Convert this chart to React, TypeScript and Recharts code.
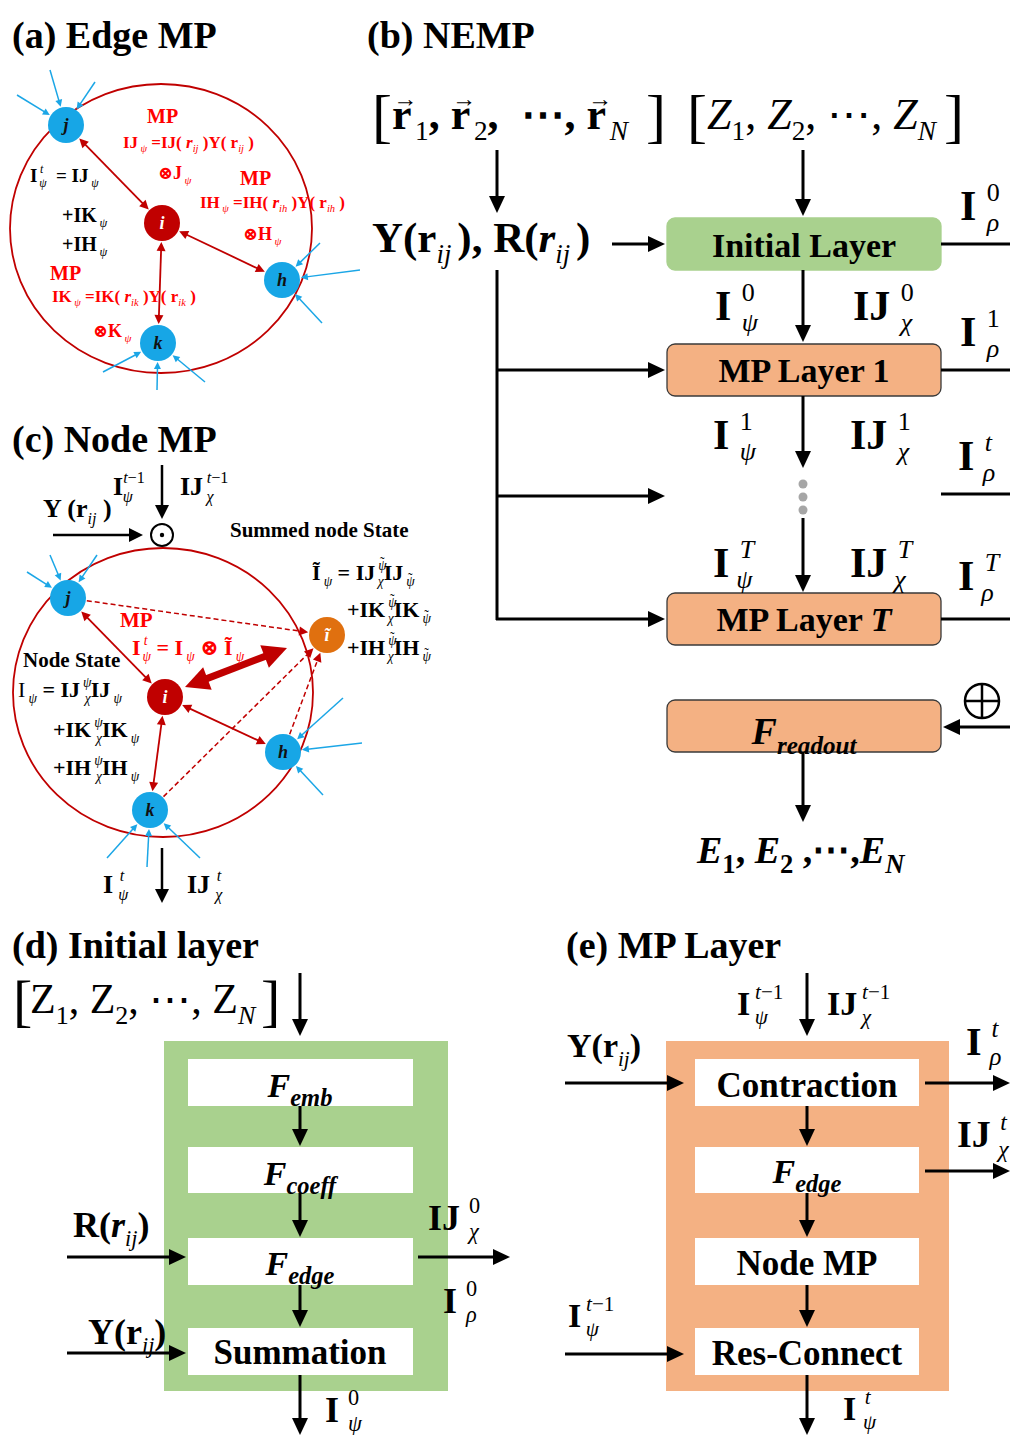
import React from 'react';
import { ScatterChart, Scatter, XAxis, YAxis, ReferenceLine, ReferenceArea } from 'recharts';

const W = 1010;
const H = 1435;
const SERIF = '"Liberation Serif", "Times New Roman", "DejaVu Serif", serif';

// ---- graph nodes of panels (a) and (c)
const nodes = [
  { id: 'aj', x: 66, y: 125, t: 'j', c: 'blue' },
  { id: 'ai', x: 162, y: 223, t: 'i', c: 'red' },
  { id: 'ah', x: 282, y: 280, t: 'h', c: 'blue' },
  { id: 'ak', x: 158, y: 343, t: 'k', c: 'blue' },
  { id: 'cj', x: 68, y: 598, t: 'j', c: 'blue' },
  { id: 'ci', x: 165, y: 697, t: 'i', c: 'red' },
  { id: 'ct', x: 327, y: 635, t: '\u0129', c: 'orange' },
  { id: 'ch', x: 283, y: 752, t: 'h', c: 'blue' },
  { id: 'ck', x: 150, y: 810, t: 'k', c: 'blue' },
];

const edges = [
  ['ai', 'aj', 'red2'], ['ai', 'ah', 'red2'], ['ai', 'ak', 'red2'],
  ['ci', 'cj', 'red2'], ['ci', 'ch', 'red2'], ['ci', 'ck', 'red2'],
  ['cj', 'ct', 'dash'], ['ck', 'ct', 'dash'], ['ch', 'ct', 'dash'],
];

// incoming neighbour messages (blue), start point -> node
const spokes: [number, number, string][] = [
  [17, 95, 'aj'], [50, 70, 'aj'], [95, 82, 'aj'],
  [320, 243, 'ah'], [360, 270, 'ah'], [322, 323, 'ah'],
  [103, 372, 'ak'], [157, 390, 'ak'], [205, 382, 'ak'],
  [27, 572, 'cj'], [50, 555, 'cj'], [97, 555, 'cj'],
  [343, 698, 'ch'], [362, 743, 'ch'], [323, 795, 'ch'],
  [107, 858, 'ck'], [147, 867, 'ck'], [200, 858, 'ck'],
];

// flow arrows [x1, y1, x2, y2, style]
const arrows: [number, number, number, number, string][] = [
  // (b)
  [497, 150, 497, 213, 'blk'], [803, 150, 803, 216, 'blk'], [612, 244, 665, 244, 'blk'],
  [941, 244, 1010, 244, 'line'], [803, 270, 803, 342, 'blk'], [941, 370, 1010, 370, 'line'],
  [497, 270, 497, 620, 'line'], [496, 370, 665, 370, 'blk'], [496, 496, 665, 496, 'blk'],
  [496, 619, 665, 619, 'blk'], [803, 396, 803, 468, 'blk'], [941, 494, 1010, 494, 'line'],
  [803, 518, 803, 592, 'blk'], [941, 619, 1010, 619, 'line'], [1010, 727, 943, 727, 'blk'],
  [803, 752, 803, 822, 'blk'],
  // (c)
  [53, 535, 143, 535, 'thin'], [162, 465, 162, 519, 'thin'], [162, 848, 162, 903, 'thin'],
  [185, 687, 287, 648, 'thick'],
  // (d)
  [300, 973, 300, 1036, 'blk'], [300, 1106, 300, 1146, 'blk'], [300, 1193, 300, 1237, 'blk'],
  [300, 1285, 300, 1327, 'blk'], [67, 1257, 186, 1257, 'blk'], [67, 1353, 186, 1353, 'blk'],
  [418, 1257, 510, 1257, 'blk'], [300, 1375, 300, 1435, 'blk'],
  // (e)
  [807, 973, 807, 1036, 'blk'], [807, 1106, 807, 1146, 'blk'], [807, 1193, 807, 1237, 'blk'],
  [807, 1285, 807, 1327, 'blk'], [565, 1083, 684, 1083, 'blk'], [565, 1354, 684, 1354, 'blk'],
  [925, 1083, 1010, 1083, 'blk'], [925, 1171, 1010, 1171, 'blk'], [807, 1375, 807, 1435, 'blk'],
];

// blocks [x1, x2, y1, y2, kind]
const blocks: [number, number, number, number, string][] = [
  [667, 941, 218, 270, 'green'], [667, 941, 344, 396, 'orange'], [667, 941, 593, 645, 'orange'],
  [667, 941, 700, 752, 'orange'],
  [164, 448, 1041, 1391, 'greenBg'], [188, 413, 1059, 1106, 'white'], [188, 413, 1147, 1193, 'white'],
  [188, 413, 1238, 1285, 'white'], [188, 413, 1328, 1375, 'white'],
  [666, 949, 1041, 1391, 'orangeBg'], [695, 919, 1059, 1106, 'white'], [695, 919, 1147, 1193, 'white'],
  [695, 919, 1238, 1285, 'white'], [695, 919, 1328, 1375, 'white'],
];

const rings: [number, number, number, number][] = [
  [10, 312, 84, 373],
  [13, 313, 548, 837],
];

const dots = [{ x: 803, y: 484 }, { x: 803, y: 497 }, { x: 803, y: 510 }];
const symbols = [{ x: 162, y: 535, s: 'odot' }, { x: 982, y: 701, s: 'oplus' }];

// text: * italic, # bold toggle, ^{} sup, _{} sub, @{} accent over last char, ` small gap
type Lbl = { x: number; y: number; t: string; size: number; bold?: boolean; sb?: boolean; ss?: number; anchor?: string; fill?: string };
const RED = '#ff0000';
const PT = 'ψ@{˜}';
const labels: Lbl[] = [
  { x: 12, y: 48, t: '(a) Edge MP', size: 38 },
  { x: 367, y: 48, t: '(b) NEMP', size: 38 },
  { x: 12, y: 452, t: '(c) Node MP', size: 38 },
  { x: 12, y: 958, t: '(d) Initial layer', size: 38 },
  { x: 566, y: 958, t: '(e) MP Layer', size: 38 },
  // (a)
  { x: 147, y: 123, t: 'MP', size: 20, fill: RED },
  { x: 123, y: 148, t: 'IJ`_{*ψ*} =IJ( *r*_{*ij*} )Y( r_{*ij*} )', size: 17, fill: RED },
  { x: 158, y: 179, t: '⊗J`_{*ψ*}', size: 18, fill: RED },
  { x: 240, y: 185, t: 'MP', size: 20, fill: RED },
  { x: 200, y: 208, t: 'IH`_{*ψ*} =IH( *r*_{*ih*} )Y( r_{*ih*} )', size: 17, fill: RED },
  { x: 243, y: 240, t: '⊗H`_{*ψ*}', size: 18, fill: RED },
  { x: 50, y: 280, t: 'MP', size: 20, fill: RED },
  { x: 52, y: 302, t: 'IK`_{*ψ*} =IK( *r*_{*ik*} )Y( r_{*ik*} )', size: 17, fill: RED },
  { x: 93, y: 337, t: '⊗K`_{*ψ*}', size: 18, fill: RED },
  { x: 30, y: 182, t: 'I`^{*t*}_{*ψ*}  = IJ`_{*ψ*}', size: 19 },
  { x: 62, y: 222, t: '+IK`_{*ψ*}', size: 20 },
  { x: 62, y: 251, t: '+IH`_{*ψ*}', size: 20 },
  // (c)
  { x: 113, y: 495, t: 'I^{*t*−1}_{*ψ*}', size: 26 },
  { x: 180, y: 495, t: 'IJ`^{*t*−1}_{*χ*}', size: 26 },
  { x: 43, y: 517, t: 'Y (r_{*ij*} )', size: 26 },
  { x: 230, y: 537, t: 'Summed node State', size: 21 },
  { x: 312, y: 580, t: 'Ĩ`_{*ψ*} = IJ`^{*' + PT + '*}_{*χ*}IJ`_{*' + PT + '*}', size: 22 },
  { x: 347, y: 617, t: '+IK`^{*' + PT + '*}_{*χ*}IK`_{*' + PT + '*}', size: 22 },
  { x: 347, y: 655, t: '+IH`^{*' + PT + '*}_{*χ*}IH`_{*' + PT + '*}', size: 22 },
  { x: 120, y: 627, t: 'MP', size: 21, fill: RED },
  { x: 132, y: 655, t: 'I`^{*t*}_{*ψ*} = I`_{*ψ*} ⊗ Ĩ`_{*ψ*}', size: 22, fill: RED },
  { x: 23, y: 667, t: 'Node State', size: 21 },
  { x: 18, y: 697, t: '#I#`_{*ψ*} = IJ`^{*ψ*}_{*χ*}IJ`_{*ψ*}', size: 22 },
  { x: 53, y: 737, t: '+IK`^{*ψ*}_{*χ*}IK`_{*ψ*}', size: 22 },
  { x: 53, y: 775, t: '+IH`^{*ψ*}_{*χ*}IH`_{*ψ*}', size: 22 },
  { x: 103, y: 893, t: 'I ^{*t*}_{*ψ*}', size: 26 },
  { x: 187, y: 893, t: 'IJ ^{*t*}_{*χ*}', size: 26 },
  // (b)
  { x: 372, y: 136, t: '[', size: 60, bold: false },
  { x: 392, y: 129, t: 'r@{→}_{1}, r@{→}_{2},  ⋯, r@{→}_{*N*}', size: 44 },
  { x: 646, y: 136, t: ']', size: 60, bold: false },
  { x: 687, y: 136, t: '[', size: 60, bold: false },
  { x: 707, y: 129, t: '*Z*_{1}, *Z*_{2}, ⋯, *Z*_{*N*}', size: 44, bold: false },
  { x: 944, y: 136, t: ']', size: 60, bold: false },
  { x: 372, y: 252, t: 'Y(r_{*ij*}`), R(*r*_{*ij*}`)', size: 43 },
  { x: 804, y: 257, t: 'Initial Layer', size: 34, anchor: 'middle' },
  { x: 804, y: 382, t: 'MP Layer 1', size: 34, anchor: 'middle' },
  { x: 804, y: 631, t: 'MP Layer *T*', size: 34, anchor: 'middle' },
  { x: 804, y: 744, t: '*F*_{*readout*}', size: 38, sb: true, ss: 0.66, anchor: 'middle' },
  { x: 697, y: 863, t: '*E*_{1}, *E*_{2} ,⋯,*E*_{*N*}', size: 38, sb: true, ss: 0.7 },
  { x: 960, y: 220, t: 'I ^{0}_{*ρ*}', size: 42 },
  { x: 715, y: 320, t: 'I ^{0}_{*ψ*}', size: 42 },
  { x: 853, y: 320, t: 'IJ ^{0}_{*χ*}', size: 42 },
  { x: 960, y: 346, t: 'I ^{1}_{*ρ*}', size: 42 },
  { x: 713, y: 449, t: 'I ^{1}_{*ψ*}', size: 42 },
  { x: 850, y: 449, t: 'IJ ^{1}_{*χ*}', size: 42 },
  { x: 958, y: 470, t: 'I ^{*t*}_{*ρ*}', size: 42 },
  { x: 713, y: 577, t: 'I ^{*T*}_{*ψ*}', size: 42 },
  { x: 850, y: 577, t: 'IJ ^{*T*}_{*χ*}', size: 42 },
  { x: 958, y: 590, t: 'I ^{*T*}_{*ρ*}', size: 42 },
  // (d)
  { x: 13, y: 1020, t: '[', size: 58, bold: false },
  { x: 30, y: 1013, t: 'Z_{1}, Z_{2}, ⋯, Z_{*N*}', size: 42, bold: false },
  { x: 261, y: 1020, t: ']', size: 58, bold: false },
  { x: 300, y: 1097, t: '*F*_{*emb*}', size: 34, sb: true, ss: 0.72, anchor: 'middle' },
  { x: 300, y: 1185, t: '*F*_{*coeff*}', size: 34, sb: true, ss: 0.72, anchor: 'middle' },
  { x: 300, y: 1275, t: '*F*_{*edge*}', size: 34, sb: true, ss: 0.72, anchor: 'middle' },
  { x: 300, y: 1364, t: 'Summation', size: 35, anchor: 'middle' },
  { x: 73, y: 1237, t: 'R(*r*_{*ij*})', size: 36 },
  { x: 88, y: 1344, t: 'Y(r_{*ij*})', size: 36 },
  { x: 428, y: 1230, t: 'IJ ^{0}_{*χ*}', size: 36 },
  { x: 443, y: 1313, t: 'I ^{0}_{*ρ*}', size: 36 },
  { x: 325, y: 1422, t: 'I ^{0}_{*ψ*}', size: 36 },
  // (e)
  { x: 737, y: 1015, t: 'I`^{*t*−1}_{*ψ*}', size: 34 },
  { x: 827, y: 1015, t: 'IJ`^{*t*−1}_{*χ*}', size: 34 },
  { x: 567, y: 1057, t: 'Y(r_{*ij*})', size: 34 },
  { x: 966, y: 1055, t: 'I ^{*t*}_{*ρ*}', size: 40 },
  { x: 957, y: 1147, t: 'IJ ^{*t*}_{*χ*}', size: 38 },
  { x: 807, y: 1097, t: 'Contraction', size: 35, anchor: 'middle' },
  { x: 807, y: 1183, t: '*F*_{*edge*}', size: 34, sb: true, ss: 0.72, anchor: 'middle' },
  { x: 807, y: 1275, t: 'Node MP', size: 35, anchor: 'middle' },
  { x: 807, y: 1365, t: 'Res-Connect', size: 35, anchor: 'middle' },
  { x: 568, y: 1327, t: 'I`^{*t*−1}_{*ψ*}', size: 34 },
  { x: 843, y: 1420, t: 'I ^{*t*}_{*ψ*}', size: 34 },
];

const NODE_FILL: Record<string, string> = { blue: '#17a6e6', red: '#c00000', orange: '#e0700f' };
const ARROW: Record<string, { stroke: string; w: number; head?: [number, number]; both?: boolean; dash?: string }> = {
  blk: { stroke: '#000', w: 3, head: [17, 8] },
  line: { stroke: '#000', w: 3 },
  thin: { stroke: '#000', w: 2.5, head: [14, 7] },
  red2: { stroke: '#c00000', w: 1.8, head: [9, 4.5], both: true },
  dash: { stroke: '#c00000', w: 1.5, head: [9, 4.5], dash: '5 3' },
  thick: { stroke: '#c00000', w: 7, head: [24, 12], both: true },
  blue: { stroke: '#1ba6e6', w: 1.5, head: [7, 3.5] },
};
const BLOCK: Record<string, { fill: string; stroke: string; rx: number }> = {
  green: { fill: '#a9d18e', stroke: '#a9d18e', rx: 8 },
  orange: { fill: '#f4b183', stroke: '#3a3a3a', rx: 8 },
  greenBg: { fill: '#a9d18e', stroke: 'none', rx: 0 },
  orangeBg: { fill: '#f4b183', stroke: 'none', rx: 0 },
  white: { fill: '#ffffff', stroke: 'none', rx: 0 },
};

// ---------- rich text
type Seg = { k: string; t: string; b: boolean; i: boolean; lvl: string };
function parse(src: string, bold: boolean, sb: boolean): Seg[] {
  const out: Seg[] = [];
  let b = bold, it = false, k = 'n', buf = '';
  const stack: { k: string; b: boolean; it: boolean }[] = [];
  const flush = () => {
    if (buf) out.push({ k, t: buf, b, i: it, lvl: k === 'acc' ? stack[stack.length - 1].k : k });
    buf = '';
  };
  for (let p = 0; p < src.length; p++) {
    const c = src[p];
    if (c === '*') { flush(); it = !it; }
    else if (c === '#') { flush(); b = !b; }
    else if (c === '`') { flush(); out.push({ k: 'gap', t: '', b, i: it, lvl: k }); }
    else if ((c === '^' || c === '_' || c === '@') && src[p + 1] === '{') {
      flush(); stack.push({ k, b, it });
      k = c === '^' ? 'sup' : c === '_' ? 'sub' : 'acc';
      if (c !== '@') { b = sb; it = false; } else { it = false; }
      p++;
    } else if (c === '}' && stack.length) {
      flush(); const s = stack.pop()!; k = s.k; b = s.b; it = s.it;
    } else buf += c;
  }
  flush();
  return out;
}
function charW(c: string): number {
  if (/[\u0300-\u036f]/.test(c)) return 0;
  if (' ,.;:'.includes(c)) return 0.25;
  if ('ijl'.includes(c)) return 0.3;
  if ('()[]rtf'.includes(c)) return 0.36;
  if ('MWmw⊗'.includes(c)) return 0.9;
  if (c === '⋯') return 1.0;
  if (c === '→') return 0.85;
  if (/[A-Z]/.test(c)) return 0.7;
  return 0.5;
}
const textW = (t: string, s: number) => Array.from(t).reduce((a, c) => a + charW(c) * s, 0);

function Rich({ l }: { l: Lbl }) {
  const size = l.size, ss = l.ss ?? 0.62;
  const segs = parse(l.t, l.bold ?? true, l.sb ?? false);
  const kids: React.ReactNode[] = [];
  const lvlFs = (k: string) => (k === 'n' ? size : size * ss);
  const lvlY = (k: string) => (k === 'sup' ? -0.46 * size : k === 'sub' ? 0.26 * size : 0);
  let cur = 0, pend = 0, supW = 0, subW = 0, prevK = 'n', lastW = 0;
  segs.forEach((g, n) => {
    if (g.k === 'gap') { pend += 0.14 * lvlFs(g.lvl); return; }
    let fs: number, target: number;
    if (g.k === 'acc') {
      const pfs = lvlFs(g.lvl);
      if (g.t === '→') { fs = pfs * 0.55; target = lvlY(g.lvl) - 0.5 * pfs; }
      else { fs = pfs; target = lvlY(g.lvl) - 0.2 * pfs; }
    } else { fs = lvlFs(g.k); target = lvlY(g.k); }
    const w = textW(g.t, fs);
    let dx = pend;
    pend = 0;
    if (g.k === 'acc') {
      dx -= lastW / 2 + w / 2;
      pend = lastW / 2 - w / 2;
    } else {
      if (g.k === 'sup') { if (prevK !== 'sup') supW = 0; supW += w; }
      if (g.k === 'sub') {
        if (prevK === 'sup') { dx -= supW; subW = 0; }
        else if (prevK !== 'sub') { subW = 0; supW = 0; }
        subW += w;
      }
      if (g.k === 'n' && prevK === 'sub' && supW > subW) dx += supW - subW;
    }
    kids.push(
      <tspan key={n} dx={dx ? dx.toFixed(1) : undefined} dy={target - cur ? (target - cur).toFixed(1) : undefined}
        fontSize={fs.toFixed(1)} fontWeight={g.b ? 700 : 400} fontStyle={g.i ? 'italic' : 'normal'}>{g.t}</tspan>,
    );
    cur = target;
    if (g.k !== 'acc') {
      const ch = Array.from(g.t);
      lastW = charW(ch[ch.length - 1]) * fs;
      prevK = g.k;
      if (g.k === 'n') { supW = 0; subW = 0; }
    }
  });
  return (
    <text x={l.x} y={l.y} textAnchor={(l.anchor ?? 'start') as any} fill={l.fill ?? '#000'} fontFamily={SERIF}
      style={{ whiteSpace: 'pre' }}>{kids}</text>
  );
}

function arrowShape(kind: string) {
  const st = ARROW[kind];
  return (p: any) => {
    const { x1, y1, x2, y2 } = p;
    const dx = x2 - x1, dy = y2 - y1, len = Math.hypot(dx, dy) || 1;
    const ux = dx / len, uy = dy / len, nx = -uy, ny = ux;
    let ax = x1, ay = y1, bx = x2, by = y2;
    const polys: string[] = [];
    const head = (tx: number, ty: number, vx: number, vy: number, L: number, Wd: number) =>
      `${tx},${ty} ${tx - vx * L + nx * Wd},${ty - vy * L + ny * Wd} ${tx - vx * L - nx * Wd},${ty - vy * L - ny * Wd}`;
    if (st.head) {
      const [L, Wd] = st.head;
      polys.push(head(x2, y2, ux, uy, L, Wd));
      bx = x2 - ux * L * 0.8; by = y2 - uy * L * 0.8;
      if (st.both) {
        polys.push(head(x1, y1, -ux, -uy, L, Wd));
        ax = x1 + ux * L * 0.8; ay = y1 + uy * L * 0.8;
      }
    }
    return (
      <g>
        <line x1={ax} y1={ay} x2={bx} y2={by} stroke={st.stroke} strokeWidth={st.w} strokeDasharray={st.dash} />
        {polys.map((pt, n) => <polygon key={n} points={pt} fill={st.stroke} />)}
      </g>
    );
  };
}

const nodeShape = (p: any) => {
  const d = p.payload;
  return (
    <g>
      <circle cx={p.cx} cy={p.cy} r={18} fill={NODE_FILL[d.c]} />
      <text x={p.cx} y={p.cy + 6} textAnchor="middle" fontFamily={SERIF} fontWeight={700} fontStyle="italic"
        fontSize={18} fill={d.c === 'blue' ? '#111' : '#fff'}>{d.t}</text>
    </g>
  );
};

const symbolShape = (p: any) => {
  const d = p.payload;
  if (d.s === 'odot') {
    return (
      <g>
        <circle cx={p.cx} cy={p.cy} r={11} fill="#fff" stroke="#000" strokeWidth={2} />
        <circle cx={p.cx} cy={p.cy} r={2.2} fill="#000" />
      </g>
    );
  }
  return (
    <g stroke="#000" strokeWidth={2.5} fill="#fff">
      <circle cx={p.cx} cy={p.cy} r={17} />
      <line x1={p.cx - 17} y1={p.cy} x2={p.cx + 17} y2={p.cy} />
      <line x1={p.cx} y1={p.cy - 17} x2={p.cx} y2={p.cy + 17} />
    </g>
  );
};

const dotShape = (p: any) => <circle cx={p.cx} cy={p.cy} r={4.5} fill="#a6a6a6" />;
const labelShape = (p: any) => <Rich l={p.payload} />;

export default function App() {
  const byId: Record<string, any> = {};
  nodes.forEach((n) => { byId[n.id] = n; });
  const R = 19;
  const trim = (a: any, b: any, ra: number, rb: number) => {
    const dx = b.x - a.x, dy = b.y - a.y, len = Math.hypot(dx, dy);
    return [
      { x: a.x + (dx / len) * ra, y: a.y + (dy / len) * ra },
      { x: b.x - (dx / len) * rb, y: b.y - (dy / len) * rb },
    ];
  };
  const links: { seg: { x: number; y: number }[]; kind: string }[] = [];
  edges.forEach(([a, b, k]) => links.push({ seg: trim(byId[a], byId[b], R, R), kind: k }));
  spokes.forEach(([x, y, id]) => links.push({ seg: trim({ x, y }, byId[id], 0, R), kind: 'blue' }));
  arrows.forEach(([x1, y1, x2, y2, k]) => links.push({ seg: [{ x: x1, y: y1 }, { x: x2, y: y2 }], kind: k }));

  return (
    <div style={{ width: W, height: H, background: '#fff' }}>
      <style>{'body{margin:0;background:#fff}'}</style>
      <ScatterChart width={W} height={H} margin={{ top: 0, right: 0, bottom: 0, left: 0 }}>
        <XAxis type="number" dataKey="x" domain={[0, W]} hide allowDataOverflow />
        <YAxis type="number" dataKey="y" domain={[0, H]} reversed hide allowDataOverflow />
        {blocks.map(([x1, x2, y1, y2, k], n) => (
          <ReferenceArea key={`b${n}`} x1={x1} x2={x2} y1={y1} y2={y2} ifOverflow="visible"
            shape={(p: any) => (
              <rect x={p.x} y={p.y} width={p.width} height={p.height} rx={BLOCK[k].rx}
                fill={BLOCK[k].fill} stroke={BLOCK[k].stroke} strokeWidth={1.3} />
            )} />
        ))}
        {rings.map(([x1, x2, y1, y2], n) => (
          <ReferenceArea key={`r${n}`} x1={x1} x2={x2} y1={y1} y2={y2} ifOverflow="visible"
            shape={(p: any) => (
              <ellipse cx={p.x + p.width / 2} cy={p.y + p.height / 2} rx={Math.abs(p.width) / 2}
                ry={Math.abs(p.height) / 2} fill="none" stroke="#c00000" strokeWidth={1.8} />
            )} />
        ))}
        {links.map((l, n) => (
          <ReferenceLine key={`l${n}`} segment={l.seg} ifOverflow="visible" shape={arrowShape(l.kind)} />
        ))}
        <Scatter data={dots} shape={dotShape} isAnimationActive={false} />
        <Scatter data={nodes} shape={nodeShape} isAnimationActive={false} />
        <Scatter data={symbols} shape={symbolShape} isAnimationActive={false} />
        <Scatter data={labels} shape={labelShape} isAnimationActive={false} />
      </ScatterChart>
    </div>
  );
}
